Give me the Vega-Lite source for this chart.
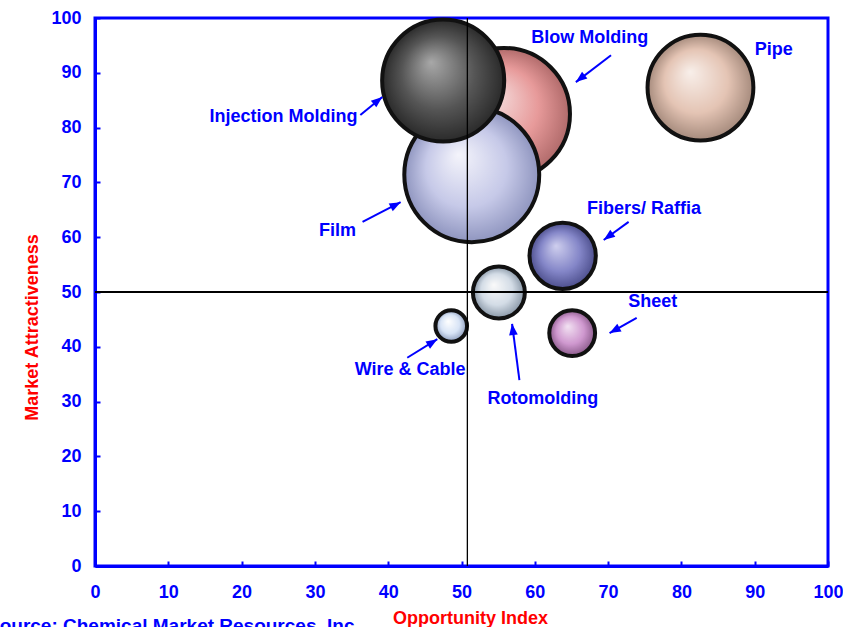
{
  "$schema": "https://vega.github.io/schema/vega-lite/v6.json",
  "autosize": {"type": "none"},
  "width": 733,
  "height": 548,
  "padding": {"left": 95, "top": 18, "right": 15, "bottom": 61},
  "background": "white",
  "title": {
    "text": "Source: Chemical Market Resources, Inc.",
    "orient": "bottom",
    "anchor": "start",
    "frame": "group",
    "dx": -108,
    "offset": -10,
    "font": "Liberation Sans",
    "fontSize": 19,
    "fontWeight": "bold",
    "color": "#0000ff"
  },
  "config": {
    "view": {"stroke": "#0000ff", "strokeWidth": 3},
    "axis": {
      "grid": false,
      "domainColor": "#0000ff",
      "domainWidth": 3,
      "tickColor": "#0000ff",
      "tickWidth": 2,
      "tickSize": -5,
      "labelFlush": false,
      "labelColor": "#0000ff",
      "labelFont": "Liberation Sans",
      "labelFontSize": 18,
      "labelFontWeight": "bold",
      "titleColor": "#ff0000",
      "titleFont": "Liberation Sans",
      "titleFontSize": 18,
      "titleFontWeight": "bold"
    }
  },
  "datasets": {
    "bubbles": [
      {"segment": "Blow Molding", "opportunity": 55.8, "attractiveness": 82.5, "volume": 174},
      {"segment": "Film", "opportunity": 51.4, "attractiveness": 71.4, "volume": 182},
      {"segment": "Injection Molding", "opportunity": 47.5, "attractiveness": 88.6, "volume": 149},
      {"segment": "Pipe", "opportunity": 82.6, "attractiveness": 87.3, "volume": 112},
      {"segment": "Fibers/ Raffia", "opportunity": 63.8, "attractiveness": 56.6, "volume": 44},
      {"segment": "Rotomolding", "opportunity": 55.1, "attractiveness": 49.9, "volume": 27},
      {"segment": "Sheet", "opportunity": 65.1, "attractiveness": 42.5, "volume": 21},
      {"segment": "Wire & Cable", "opportunity": 48.6, "attractiveness": 43.8, "volume": 10}
    ],
    "labels": [
      {"segment": "Blow Molding", "lx": 67.5, "ly": 96.4},
      {"segment": "Pipe", "lx": 92.6, "ly": 94.2},
      {"segment": "Injection Molding", "lx": 25.7, "ly": 81.9},
      {"segment": "Film", "lx": 33.1, "ly": 61.1},
      {"segment": "Fibers/ Raffia", "lx": 74.9, "ly": 65.1},
      {"segment": "Sheet", "lx": 76.1, "ly": 48.2},
      {"segment": "Wire & Cable", "lx": 43.0, "ly": 35.8},
      {"segment": "Rotomolding", "lx": 61.1, "ly": 30.5}
    ],
    "arrows": [
      {"segment": "Blow Molding", "tx": 70.4, "ty": 93.2, "hx": 65.6, "hy": 88.3, "dir": 232},
      {"segment": "Injection Molding", "tx": 36.2, "ty": 82.3, "hx": 39.2, "hy": 85.6, "dir": 51},
      {"segment": "Film", "tx": 36.5, "ty": 62.8, "hx": 41.7, "hy": 66.4, "dir": 62},
      {"segment": "Fibers/ Raffia", "tx": 72.8, "ty": 62.8, "hx": 69.4, "hy": 59.5, "dir": 234},
      {"segment": "Sheet", "tx": 73.9, "ty": 45.3, "hx": 70.2, "hy": 42.5, "dir": 241},
      {"segment": "Wire & Cable", "tx": 42.6, "ty": 38.0, "hx": 46.7, "hy": 41.4, "dir": 58},
      {"segment": "Rotomolding", "tx": 57.9, "ty": 33.9, "hx": 56.9, "hy": 44.2, "dir": 353}
    ]
  },
  "layer": [
    {
      "data": {"name": "bubbles"},
      "mark": {"type": "point", "shape": "circle", "filled": true, "stroke": "#111111", "strokeWidth": 4, "opacity": 1, "fillOpacity": 1},
      "encoding": {
        "x": {
          "field": "opportunity", "type": "quantitative",
          "scale": {"domain": [0, 100], "nice": false},
          "axis": {"values": [0,10,20,30,40,50,60,70,80,90,100], "title": "Opportunity Index", "labelPadding": 22, "titleY": 43, "titleX": 375}
        },
        "y": {
          "field": "attractiveness", "type": "quantitative",
          "scale": {"domain": [0, 100], "nice": false},
          "axis": {"values": [0,10,20,30,40,50,60,70,80,90,100], "title": "Market Attractiveness", "labelPadding": 19, "titleX": -54, "titleY": 309}
        },
        "size": {"field": "volume", "type": "quantitative", "scale": {"domain": [0, 200], "range": [0, 20000]}, "legend": null},
        "order": {"value": null},
        "fill": {
          "condition": [
            {"test": "datum.segment === 'Blow Molding'", "value": {"gradient": "radial", "x1": 0.4, "y1": 0.35, "r1": 0, "x2": 0.5, "y2": 0.5, "r2": 0.5, "stops": [{"offset": 0, "color": "#f6e2e2"}, {"offset": 0.6, "color": "#e79a9a"}, {"offset": 1, "color": "#b06a6a"}]}},
            {"test": "datum.segment === 'Film'", "value": {"gradient": "radial", "x1": 0.4, "y1": 0.35, "r1": 0, "x2": 0.5, "y2": 0.5, "r2": 0.5, "stops": [{"offset": 0, "color": "#f4f4fb"}, {"offset": 0.6, "color": "#c6c9e8"}, {"offset": 1, "color": "#8f95bf"}]}},
            {"test": "datum.segment === 'Injection Molding'", "value": {"gradient": "radial", "x1": 0.4, "y1": 0.35, "r1": 0, "x2": 0.5, "y2": 0.5, "r2": 0.5, "stops": [{"offset": 0, "color": "#a8a8a8"}, {"offset": 0.6, "color": "#555555"}, {"offset": 1, "color": "#2a2a2a"}]}},
            {"test": "datum.segment === 'Pipe'", "value": {"gradient": "radial", "x1": 0.4, "y1": 0.35, "r1": 0, "x2": 0.5, "y2": 0.5, "r2": 0.5, "stops": [{"offset": 0, "color": "#f8efea"}, {"offset": 0.6, "color": "#e4c4b4"}, {"offset": 1, "color": "#a58a7c"}]}},
            {"test": "datum.segment === 'Fibers/ Raffia'", "value": {"gradient": "radial", "x1": 0.4, "y1": 0.35, "r1": 0, "x2": 0.5, "y2": 0.5, "r2": 0.5, "stops": [{"offset": 0, "color": "#cfcfee"}, {"offset": 0.6, "color": "#8486c8"}, {"offset": 1, "color": "#4c4e8c"}]}},
            {"test": "datum.segment === 'Rotomolding'", "value": {"gradient": "radial", "x1": 0.4, "y1": 0.35, "r1": 0, "x2": 0.5, "y2": 0.5, "r2": 0.5, "stops": [{"offset": 0, "color": "#fafafa"}, {"offset": 0.6, "color": "#d3dce6"}, {"offset": 1, "color": "#8896a6"}]}},
            {"test": "datum.segment === 'Sheet'", "value": {"gradient": "radial", "x1": 0.4, "y1": 0.35, "r1": 0, "x2": 0.5, "y2": 0.5, "r2": 0.5, "stops": [{"offset": 0, "color": "#f2e2f2"}, {"offset": 0.6, "color": "#cf98cf"}, {"offset": 1, "color": "#8a5a8a"}]}}
          ],
          "value": {"gradient": "radial", "x1": 0.4, "y1": 0.35, "r1": 0, "x2": 0.5, "y2": 0.5, "r2": 0.5, "stops": [{"offset": 0, "color": "#ffffff"}, {"offset": 0.6, "color": "#d8e4f6"}, {"offset": 1, "color": "#8c9cbc"}]}
        }
      }
    },
    {
      "data": {"values": [{"divider": 50.8}]},
      "mark": {"type": "rule", "color": "#000000", "strokeWidth": 1.3},
      "encoding": {"x": {"field": "divider", "type": "quantitative"}}
    },
    {
      "data": {"values": [{"divider": 50}]},
      "mark": {"type": "rule", "color": "#000000", "strokeWidth": 2},
      "encoding": {"y": {"field": "divider", "type": "quantitative"}}
    },
    {
      "data": {"name": "arrows"},
      "mark": {"type": "rule", "color": "#0000ff", "strokeWidth": 2},
      "encoding": {
        "x": {"field": "tx", "type": "quantitative"},
        "y": {"field": "ty", "type": "quantitative"},
        "x2": {"field": "hx"},
        "y2": {"field": "hy"}
      }
    },
    {
      "data": {"name": "arrows"},
      "mark": {"type": "point", "shape": "M0,0L-0.5,1.3L0.5,1.3Z", "filled": true, "color": "#0000ff", "opacity": 1, "size": 300},
      "encoding": {
        "x": {"field": "hx", "type": "quantitative"},
        "y": {"field": "hy", "type": "quantitative"},
        "angle": {"field": "dir", "type": "quantitative", "scale": {"domain": [0, 360], "range": [0, 360]}, "legend": null}
      }
    },
    {
      "data": {"name": "labels"},
      "mark": {"type": "text", "font": "Liberation Sans", "fontSize": 18, "fontWeight": "bold", "color": "#0000ff", "align": "center", "baseline": "middle"},
      "encoding": {
        "x": {"field": "lx", "type": "quantitative"},
        "y": {"field": "ly", "type": "quantitative"},
        "text": {"field": "segment"}
      }
    }
  ]
}
